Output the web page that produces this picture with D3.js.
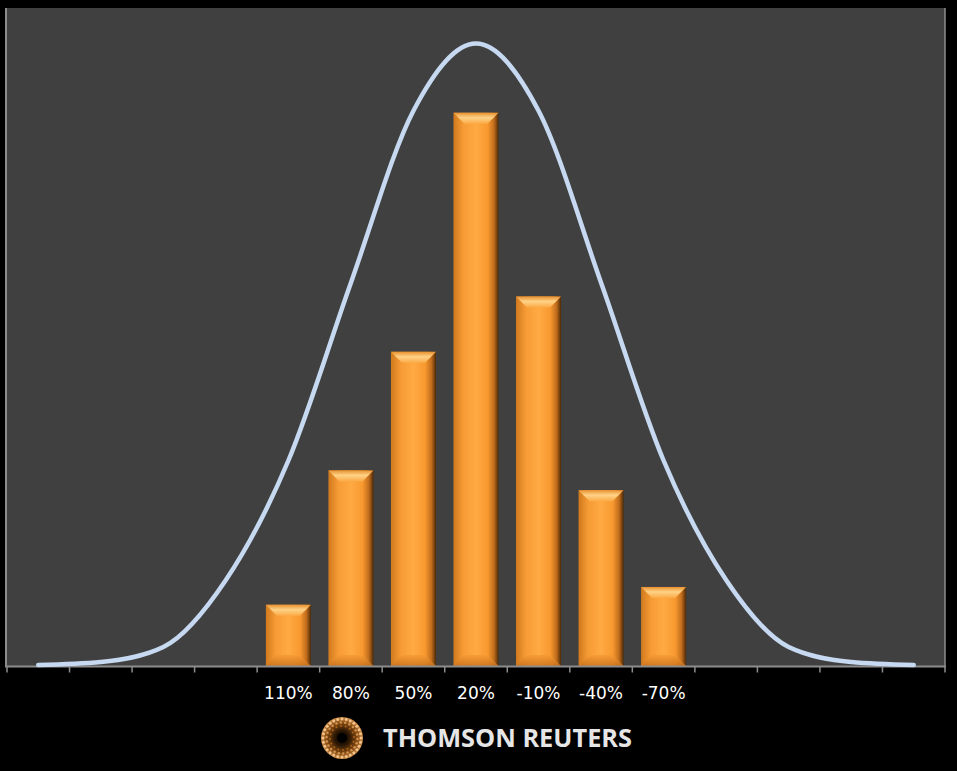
<!DOCTYPE html>
<html>
<head>
<meta charset="utf-8">
<script src="https://cdn.jsdelivr.net/npm/d3@7"></script>
<style>
  body { margin: 0; background: #000; }
  svg { display: block; }
</style>
</head>
<body>
<svg></svg>
<script>
// category slots along the x axis (only the middle ones carry labels)
var categories = ["", "", "", "", "110%", "80%", "50%", "20%", "-10%", "-40%", "-70%", "", "", "", ""];
// bar heights (frequency), null where no bar
var barValues = [null, null, null, null, 3.1, 9.9, 15.9, 28, 18.7, 8.9, 4.0, null, null, null, null];
// normal curve, one point per category slot
var curveValues = [0.05, 0.2, 0.96, 4.35, 10.4, 19.4, 28.1, 31.5, 28.1, 19.4, 10.4, 4.35, 0.96, 0.2, 0.05];

var svgWidth = 957, svgHeight = 771;
var plot = { left: 7, right: 945, top: 8, bottom: 666 };

var svg = d3.select("svg")
            .attr("width", svgWidth)
            .attr("height", svgHeight);

svg.append("rect")
   .attr("width", svgWidth)
   .attr("height", svgHeight)
   .attr("fill", "#000");

var idx = d3.range(categories.length);

var x = d3.scaleBand()
          .domain(idx)
          .range([plot.left, plot.right])
          .paddingInner(0.28)
          .paddingOuter(0.14);

var y = d3.scaleLinear()
          .domain([0, 33.3])
          .range([plot.bottom, plot.top]);

// gradients for the bevelled bars
var defs = svg.append("defs");
var face = defs.append("linearGradient").attr("id", "face").attr("x1", 0).attr("x2", 1).attr("y1", 0).attr("y2", 0);
face.append("stop").attr("offset", "0%").attr("stop-color", "#d07a1e");
face.append("stop").attr("offset", "22%").attr("stop-color", "#f79b35");
face.append("stop").attr("offset", "50%").attr("stop-color", "#ffaa44");
face.append("stop").attr("offset", "76%").attr("stop-color", "#f8992f");
face.append("stop").attr("offset", "90%").attr("stop-color", "#c06c1c");
face.append("stop").attr("offset", "100%").attr("stop-color", "#4e2a06");

var topG = defs.append("linearGradient").attr("id", "topb").attr("x1", 0).attr("x2", 0).attr("y1", 0).attr("y2", 1);
topG.append("stop").attr("offset", "0%").attr("stop-color", "#e9912e");
topG.append("stop").attr("offset", "45%").attr("stop-color", "#ffd287");
topG.append("stop").attr("offset", "100%").attr("stop-color", "#fbaa45");

var botG = defs.append("linearGradient").attr("id", "botb").attr("x1", 0).attr("x2", 0).attr("y1", 0).attr("y2", 1);
botG.append("stop").attr("offset", "0%").attr("stop-color", "#f59a34");
botG.append("stop").attr("offset", "100%").attr("stop-color", "#c9711c");

var logoG = defs.append("radialGradient").attr("id", "logo");
logoG.append("stop").attr("offset", "0%").attr("stop-color", "#000");
logoG.append("stop").attr("offset", "35%").attr("stop-color", "#2a1604");
logoG.append("stop").attr("offset", "75%").attr("stop-color", "#8a4e14");
logoG.append("stop").attr("offset", "100%").attr("stop-color", "#c98a44");

// plot area
svg.append("rect")
   .attr("x", plot.left)
   .attr("y", plot.top)
   .attr("width", plot.right - plot.left)
   .attr("height", plot.bottom - plot.top)
   .attr("fill", "#404040");

// side axis lines
svg.append("line")
   .attr("x1", plot.left - 1).attr("x2", plot.left - 1)
   .attr("y1", plot.top).attr("y2", plot.bottom)
   .attr("stroke", "#8c8c8c").attr("stroke-width", 2);
svg.append("line")
   .attr("x1", plot.right).attr("x2", plot.right)
   .attr("y1", plot.top).attr("y2", plot.bottom)
   .attr("stroke", "#8c8c8c").attr("stroke-width", 1.5);

// bars
var bev = 11;
var bars = svg.append("g")
              .selectAll("g")
              .data(idx.filter(function(i) { return barValues[i] != null; }))
              .enter().append("g");

bars.append("rect")
    .attr("x", function(i) { return x(i); })
    .attr("y", function(i) { return y(barValues[i]); })
    .attr("width", x.bandwidth())
    .attr("height", function(i) { return y(0) - y(barValues[i]); })
    .attr("fill", "url(#face)");

bars.append("path")
    .attr("fill", "url(#topb)")
    .attr("d", function(i) {
        var x0 = x(i), x1 = x(i) + x.bandwidth(), t = y(barValues[i]);
        return "M" + x0 + "," + t + "L" + x1 + "," + t + "L" + (x1 - bev) + "," + (t + bev) + "L" + (x0 + bev) + "," + (t + bev) + "Z";
    });

bars.append("path")
    .attr("fill", "url(#botb)")
    .attr("opacity", 0.8)
    .attr("d", function(i) {
        var x0 = x(i), x1 = x(i) + x.bandwidth(), b = y(0);
        return "M" + x0 + "," + b + "L" + x1 + "," + b + "L" + (x1 - bev) + "," + (b - bev) + "L" + (x0 + bev) + "," + (b - bev) + "Z";
    });

// x axis
var xAxis = svg.append("g")
               .attr("transform", "translate(0," + (plot.bottom + 0.5) + ")");
xAxis.append("line")
     .attr("x1", plot.left - 2).attr("x2", plot.right + 1)
     .attr("stroke", "#8c8c8c").attr("stroke-width", 2);
xAxis.selectAll(".tick")
     .data(d3.range(categories.length + 1))
     .enter().append("line")
     .attr("x1", function(k) { return plot.left + k * x.step(); })
     .attr("x2", function(k) { return plot.left + k * x.step(); })
     .attr("y1", 0).attr("y2", 6)
     .attr("stroke", "#8c8c8c").attr("stroke-width", 1.5);

xAxis.selectAll(".lbl")
     .data(idx)
     .enter().append("text")
     .attr("x", function(i) { return x(i) + x.bandwidth() / 2; })
     .attr("y", 32)
     .attr("text-anchor", "middle")
     .attr("fill", "#fff")
     .style("font-family", "DejaVu Sans, Verdana, sans-serif")
     .style("font-size", "17px")
     .text(function(i) { return categories[i]; });

// normal curve
var line = d3.line()
             .x(function(i) { return x(i) + x.bandwidth() / 2; })
             .y(function(i) { return y(curveValues[i]); })
             .curve(d3.curveMonotoneX);

svg.append("path")
   .datum(idx)
   .attr("fill", "none")
   .attr("stroke", "#c6d9f1")
   .attr("stroke-width", 4.5)
   .attr("stroke-linecap", "round")
   .attr("stroke-linejoin", "round")
   .attr("d", line);

// Thomson Reuters logo
var logo = svg.append("g").attr("transform", "translate(342,738)");
logo.append("circle").attr("r", 21).attr("fill", "url(#logo)");
[19, 15.5, 12].forEach(function(r, k) {
    var n = [28, 22, 16][k];
    for (var j = 0; j < n; j++) {
        var a = j / n * 2 * Math.PI + k * 0.35;
        logo.append("circle")
            .attr("cx", r * Math.cos(a))
            .attr("cy", r * Math.sin(a))
            .attr("r", 1.5 - k * 0.25)
            .attr("fill", d3.interpolateRgb("#f2c28a", "#b06416")(k / 2));
    }
});
logo.append("circle").attr("r", 5).attr("fill", "#000");

svg.append("text")
   .attr("x", 383)
   .attr("y", 747)
   .attr("fill", "#e6e6e6")
   .attr("textLength", 249)
   .attr("lengthAdjust", "spacingAndGlyphs")
   .style("font-family", "Open Sans, sans-serif")
   .style("font-weight", "bold")
   .style("font-size", "25px")
   .text("THOMSON REUTERS");
</script>
</body>
</html>
